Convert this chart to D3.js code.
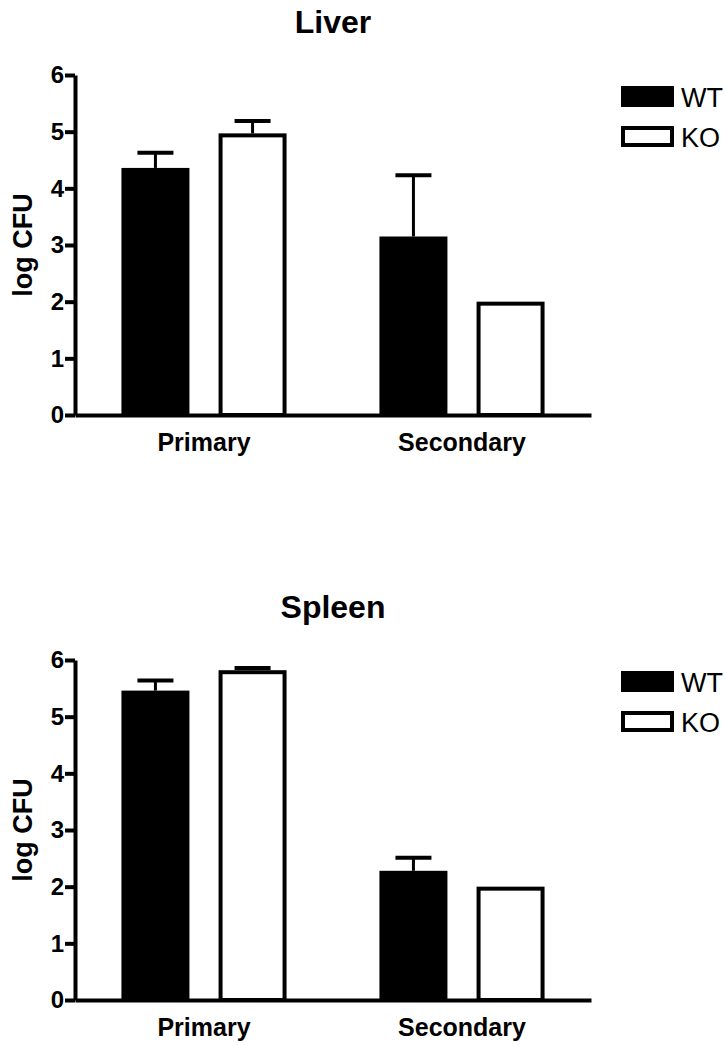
<!DOCTYPE html>
<html>
<head>
<meta charset="utf-8">
<script src="https://cdn.jsdelivr.net/npm/d3@7"></script>
<style>
  body { margin: 0; background: #fff; }
  svg text { font-family: "Liberation Sans", Arial, sans-serif; }
</style>
</head>
<body>
<div id="wrapper"></div>
<script>
// data
const groups = ["Primary", "Secondary"]
const keys = ["WT", "KO"]
const yTicks = [0, 1, 2, 3, 4, 5, 6]

const liverWT = [4.36, 3.15]
const liverWTsem = [0.27, 1.08]
const liverKO = [4.97, 2.0]
const liverKOsem = [0.22, 0]

const spleenWT = [5.46, 2.28]
const spleenWTsem = [0.18, 0.23]
const spleenKO = [5.82, 2.0]
const spleenKOsem = [0.04, 0]

const colors = { WT: "#000", KO: "#fff" }

// dimensions
const width = 726
const height = 1046
const panelHeight = 585

const wrapper = d3.select("#wrapper")
  .append("svg")
  .attr("width", width)
  .attr("height", height)

function drawPanel(title, wt, wtSem, ko, koSem, offsetY) {
  const rows = groups.map((g, i) => ({
    group: g,
    values: [
      { key: "WT", value: wt[i], sem: wtSem[i] },
      { key: "KO", value: ko[i], sem: koSem[i] }
    ]
  }))

  const bounds = wrapper.append("g")
    .attr("transform", `translate(0, ${offsetY})`)

  const x0 = d3.scaleBand()
    .domain(groups)
    .range([75, 591])
    .paddingInner(0.36)
    .paddingOuter(0.18)

  const x1 = d3.scaleBand()
    .domain(keys)
    .range([0, x0.bandwidth()])
    .paddingInner(0.3)

  const y = d3.scaleLinear()
    .domain([0, 6])
    .range([415, 75])

  // title
  bounds.append("text")
    .attr("x", 333)
    .attr("y", 33)
    .attr("text-anchor", "middle")
    .style("font-size", "32px")
    .style("font-weight", "bold")
    .text(title)

  // bars
  const grp = bounds.selectAll(".grp")
    .data(rows)
    .join("g")
    .attr("class", "grp")
    .attr("transform", d => `translate(${x0(d.group)},0)`)

  grp.selectAll("rect")
    .data(d => d.values)
    .join("rect")
    .attr("x", d => x1(d.key) + 2)
    .attr("y", d => y(d.value) + 2)
    .attr("width", x1.bandwidth() - 4)
    .attr("height", d => y(0) - y(d.value) - 2)
    .attr("fill", d => colors[d.key])
    .attr("stroke", "#000")
    .attr("stroke-width", 4)

  // error bars (upper only)
  const err = grp.selectAll(".err")
    .data(d => d.values.filter(v => v.sem > 0))
    .join("g")
    .attr("class", "err")

  err.append("line")
    .attr("x1", d => x1(d.key) + x1.bandwidth() / 2)
    .attr("x2", d => x1(d.key) + x1.bandwidth() / 2)
    .attr("y1", d => y(d.value))
    .attr("y2", d => y(d.value + d.sem))
    .attr("stroke", "#000")
    .attr("stroke-width", 3)

  err.append("line")
    .attr("x1", d => x1(d.key) + x1.bandwidth() / 2 - 18)
    .attr("x2", d => x1(d.key) + x1.bandwidth() / 2 + 18)
    .attr("y1", d => y(d.value + d.sem))
    .attr("y2", d => y(d.value + d.sem))
    .attr("stroke", "#000")
    .attr("stroke-width", 4)

  // axes
  const yAxis = bounds.append("g")
    .attr("transform", "translate(75,0)")
    .call(d3.axisLeft(y).tickValues(yTicks).tickFormat(d3.format("d"))
      .tickSize(10).tickSizeOuter(0).tickPadding(1))
  yAxis.selectAll("path, line").attr("stroke", "#000").attr("stroke-width", 4)
  yAxis.selectAll("text")
    .attr("fill", "#000")
    .style("font-family", '"Liberation Sans", Arial, sans-serif')
    .style("font-size", "24px")
    .style("font-weight", "bold")

  const xAxis = bounds.append("g")
    .attr("transform", `translate(0,${y(0)})`)
    .call(d3.axisBottom(x0).tickSize(0).tickSizeOuter(0).tickPadding(18))
  xAxis.select(".domain").attr("stroke", "#000").attr("stroke-width", 4)
  xAxis.selectAll("text")
    .attr("fill", "#000")
    .style("font-family", '"Liberation Sans", Arial, sans-serif')
    .style("font-size", "25px")
    .style("font-weight", "bold")

  bounds.append("text")
    .attr("transform", `translate(32, ${(y(0) + y(6)) / 2}) rotate(-90)`)
    .attr("text-anchor", "middle")
    .style("font-size", "27px")
    .style("font-weight", "bold")
    .text("log CFU")

  // legend
  const legend = bounds.selectAll(".legend")
    .data(keys)
    .join("g")
    .attr("class", "legend")
    .attr("transform", (d, i) => `translate(621, ${86 + i * 40})`)

  legend.append("rect")
    .attr("x", 2)
    .attr("y", 2)
    .attr("width", 49)
    .attr("height", 17)
    .attr("fill", d => colors[d])
    .attr("stroke", "#000")
    .attr("stroke-width", 4)

  legend.append("text")
    .attr("x", 60)
    .attr("y", 21)
    .style("font-size", "27px")
    .text(d => d)
}

drawPanel("Liver", liverWT, liverWTsem, liverKO, liverKOsem, 0)
drawPanel("Spleen", spleenWT, spleenWTsem, spleenKO, spleenKOsem, panelHeight)
</script>
</body>
</html>
